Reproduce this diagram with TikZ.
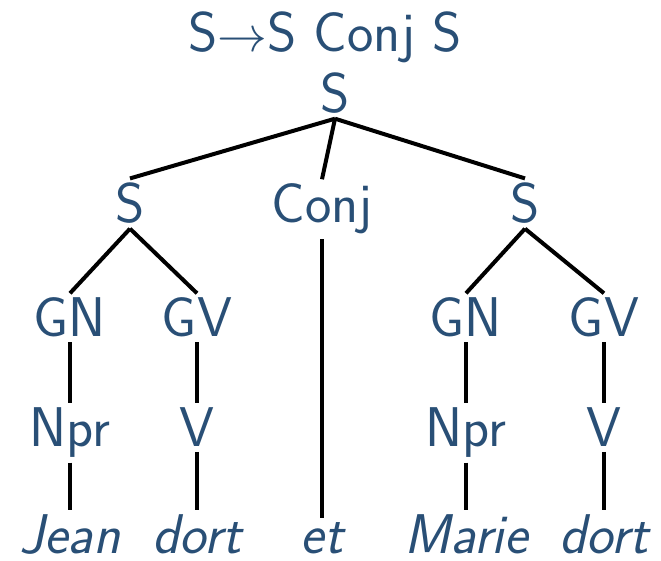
\documentclass[tikz,border=0pt]{standalone}
\definecolor{treeblue}{RGB}{41,79,118}
\begin{document}
\begin{tikzpicture}[x=0.5pt,y=-0.5pt,
    cat/.style={anchor=base,inner sep=2.2pt,text=treeblue,
      font=\fontsize{28}{34}\selectfont\sffamily},
    word/.style={cat,font=\fontsize{28}{34}\selectfont\sffamily\itshape},
    branch/.style={line width=2pt,black}]
              \useasboundingbox (0,0) rectangle (661,561);
              \node[cat] (rule) at (325,52) {S$\rightarrow$S Conj S};
              \node[cat] (root) at (335,113) {S};
              \node[cat] (sl) at (130,223) {S};
              \node[cat] (conj) at (322,223) {Conj};
              \node[cat] (sr) at (525,223) {S};
              \node[cat] (gnl) at (70,337) {GN};
              \node[cat] (gvl) at (197,337) {GV};
              \node[cat] (gnr) at (466,337) {GN};
              \node[cat] (gvr) at (604,337) {GV};
              \node[cat] (nprl) at (70,447) {Npr};
              \node[cat] (vl) at (197,447) {V};
              \node[cat] (nprr) at (466,447) {Npr};
              \node[cat] (vr) at (604,447) {V};
              \node[word] (jean) at (70,554) {Jean};
              \node[word] (dortl) at (197,554) {dort};
              \node[word] (et) at (322,554) {et};
              \node[word] (marie) at (466,554) {Marie};
              \node[word] (dortr) at (604,554) {dort};
              \draw[branch] (root.south) -- (sl.north);
              \draw[branch] (root.south) -- (conj.north);
              \draw[branch] (root.south) -- (sr.north);
              \draw[branch] (sl.south) -- (gnl.north);
              \draw[branch] (sl.south) -- (gvl.north);
              \draw[branch] (sr.south) -- (gnr.north);
              \draw[branch] (sr.south) -- (gvr.north);
              \draw[branch] (gnl.south) -- (nprl.north);
              \draw[branch] (gvl.south) -- (vl.north);
              \draw[branch] (gnr.south) -- (nprr.north);
              \draw[branch] (gvr.south) -- (vr.north);
              \draw[branch] (nprl.south) -- (jean.north);
              \draw[branch] (vl.south) -- (dortl.north);
              \draw[branch] (conj.south) -- (et.north);
              \draw[branch] (nprr.south) -- (marie.north);
              \draw[branch] (vr.south) -- (dortr.north);
        \end{tikzpicture}
\end{document}
